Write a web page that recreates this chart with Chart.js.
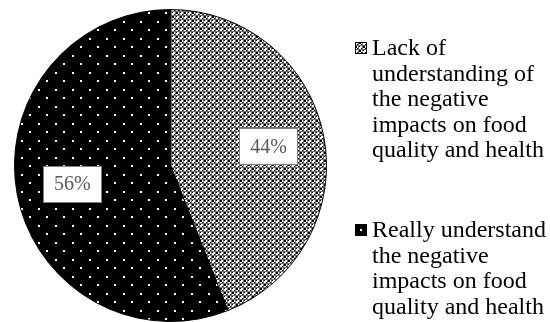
<!DOCTYPE html>
<html>
<head>
<meta charset="utf-8">
<script src="https://cdn.jsdelivr.net/npm/chart.js@4/dist/chart.umd.min.js"></script>
<style>
  html, body { margin: 0; padding: 0; background: #fff; }
  #wrap { position: relative; width: 550px; height: 322px; overflow: hidden; }
  #c { position: absolute; left: 0; top: 0; }
  .leg { position: absolute; left: 372px; font-family: "Liberation Serif", "Times New Roman", serif; font-size: 24px; line-height: 25.5px; color: #000; white-space: nowrap; }
  .sw { position: absolute; left: -17px; top: 7px; width: 12px; height: 12px; }
</style>
</head>
<body>
<div id="wrap">
  <canvas id="c" width="550" height="322"></canvas>
  <div class="leg" id="leg1" style="top: 35px;"><canvas class="sw" id="sw1" width="12" height="12"></canvas>Lack of<br>understanding of<br>the negative<br>impacts on food<br>quality and health</div>
  <div class="leg" id="leg2" style="top: 217px;"><canvas class="sw" id="sw2" width="12" height="12"></canvas>Really understand<br>the negative<br>impacts on food<br>quality and health</div>
</div>
<script>
const categories = [
  "Lack of understanding of the negative impacts on food quality and health",
  "Really understand the negative impacts on food quality and health"
];
const values = [44, 56];
const valueLabels = ["44%", "56%"];

function checkerPattern(ctx) {
  const t = document.createElement('canvas');
  t.width = 8; t.height = 8;
  const g = t.getContext('2d');
  const img = g.createImageData(8, 8);
  for (let y = 0; y < 8; y++) {
    for (let x = 0; x < 8; x++) {
      let v = (((x >> 1) + (y >> 1)) % 2 === 0) ? 0 : 255;
      if (x % 4 === 3 || y % 4 === 3) v = 110;
      const cx = [[1,1],[5,5]];
      for (const [px, py] of cx) {
        if ((x === px && Math.abs(y - py) <= 1) || (y === py && Math.abs(x - px) <= 1)) v = 255;
      }
      const i = (y * 8 + x) * 4;
      img.data[i] = v; img.data[i+1] = v; img.data[i+2] = v; img.data[i+3] = 255;
    }
  }
  g.putImageData(img, 0, 0);
  return ctx.createPattern(t, 'repeat');
}

function dotPattern(ctx) {
  const t = document.createElement('canvas');
  t.width = 17; t.height = 17;
  const g = t.getContext('2d');
  g.fillStyle = '#000';
  g.fillRect(0, 0, 17, 17);
  g.fillStyle = '#fff';
  g.fillRect(4, 4, 2, 2);
  g.fillRect(12, 12, 2, 2);
  return ctx.createPattern(t, 'repeat');
}

const canvas = document.getElementById('c');
const ctx = canvas.getContext('2d');
const pat1 = checkerPattern(ctx);
const pat2 = dotPattern(ctx);

(function () {
  const s1 = document.getElementById('sw1').getContext('2d');
  s1.fillStyle = checkerPattern(s1); s1.fillRect(0, 0, 12, 12);
  s1.strokeStyle = '#000'; s1.lineWidth = 1; s1.strokeRect(0.5, 0.5, 11, 11);
  const s2 = document.getElementById('sw2').getContext('2d');
  s2.fillStyle = '#000'; s2.fillRect(0, 0, 12, 12);
  s2.fillStyle = '#fff'; s2.fillRect(5, 5, 2, 2);
})();

const labelPlugin = {
  id: 'boxLabels',
  afterDatasetsDraw(chart) {
    const meta = chart.getDatasetMeta(0);
    const c = chart.ctx;
    c.save();
    c.font = '20px "Liberation Serif", "Times New Roman", serif';
    c.textAlign = 'center';
    c.textBaseline = 'middle';
    meta.data.forEach((arc, i) => {
      const mid = (arc.startAngle + arc.endAngle) / 2;
      const r = arc.outerRadius * 0.64;
      const x = arc.x + Math.cos(mid) * r;
      const y = arc.y + Math.sin(mid) * r;
      const w = 59, h = 37;
      c.fillStyle = '#fff';
      c.fillRect(Math.round(x - w / 2), Math.round(y - h / 2), w, h);
      c.strokeStyle = '#7f7f7f';
      c.lineWidth = 1;
      c.strokeRect(Math.round(x - w / 2) + 0.5, Math.round(y - h / 2) + 0.5, w - 1, h - 1);
      c.fillStyle = '#595959';
      c.fillText(valueLabels[i], x, y + 1);
    });
    c.restore();
  }
};

new Chart(canvas, {
  type: 'pie',
  data: {
    labels: categories,
    datasets: [{
      data: values,
      backgroundColor: [pat1, pat2],
      borderColor: '#000',
      borderWidth: 1
    }]
  },
  options: {
    responsive: false,
    animation: false,
    layout: { padding: { left: 13, right: 222, top: 9, bottom: 0 } },
    plugins: {
      legend: { display: false },
      tooltip: { enabled: false }
    }
  },
  plugins: [labelPlugin]
});
</script>
</body>
</html>
